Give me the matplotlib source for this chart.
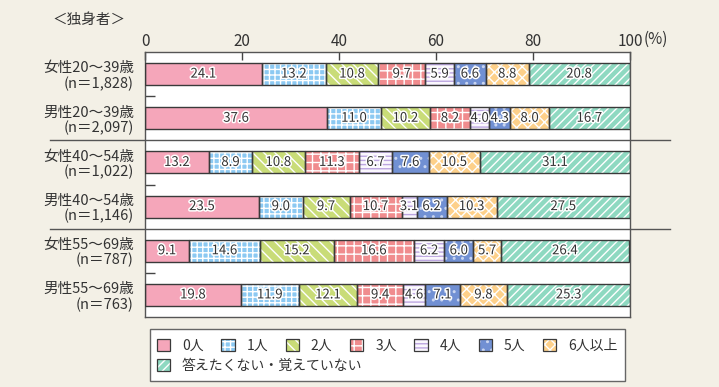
import matplotlib
matplotlib.use("Agg")
import matplotlib.pyplot as plt
import matplotlib.transforms as mtransforms
import matplotlib.patheffects as pe
from matplotlib.patches import Patch, Rectangle
import numpy as np

plt.rcParams['font.family'] = ['Noto Sans CJK JP', 'DejaVu Sans']
plt.rcParams['hatch.linewidth'] = 1.0

# data
groups = ['女性20〜39歳\n(n＝1,828)', '男性20〜39歳\n(n＝2,097)',
          '女性40〜54歳\n(n＝1,022)', '男性40〜54歳\n(n＝1,146)',
          '女性55〜69歳\n(n＝787)', '男性55〜69歳\n(n＝763)']
categories = ['0人', '1人', '2人', '3人', '4人', '5人', '6人以上', '答えたくない・覚えていない']
values = np.array([
    [24.1, 13.2, 10.8, 9.7, 5.9, 6.6, 8.8, 20.8],
    [37.6, 11.0, 10.2, 8.2, 4.0, 4.3, 8.0, 16.7],
    [13.2, 8.9, 10.8, 11.3, 6.7, 7.6, 10.5, 31.1],
    [23.5, 9.0, 9.7, 10.7, 3.1, 6.2, 10.3, 27.5],
    [9.1, 14.6, 15.2, 16.6, 6.2, 6.0, 5.7, 26.4],
    [19.8, 11.9, 12.1, 9.4, 4.6, 7.1, 9.8, 25.3],
])
xticks = [0, 20, 40, 60, 80, 100]

# styles: face colour, hatch, hatch colour
styles = [
    ('#f5a6ba', '', '#f5a6ba'),
    ('#8cc9f2', '+++', 'white'),
    ('#c9dc78', '\\\\\\', 'white'),
    ('#f08c8e', '++', 'white'),
    ('#faf7fd', '----', '#bca6e0'),
    ('#7190d3', '..', '#c9d5f0'),
    ('#fdd08a', 'xxx', 'white'),
    ('#8fd9c1', '////', 'white'),
]
edge = '#3a3a3a'
bg = '#f3f0e6'

W, H = 719, 387
fig = plt.figure(figsize=(W / 100, H / 100), dpi=100, facecolor=bg)
ax = fig.add_axes([145 / W, (H - 317) / H, 485 / W, 265 / H])
ax.set_facecolor('white')

y = np.arange(len(groups))
left = np.zeros(len(groups))
for j, cat in enumerate(categories):
    fc, hatch, hc = styles[j]
    w = values[:, j]
    ax.barh(y, w, left=left, height=0.5, color=fc, hatch=hatch,
            edgecolor=hc, linewidth=0, zorder=2)
    ax.barh(y, w, left=left, height=0.5, fill=False,
            edgecolor=edge, linewidth=1.0, zorder=3)
    for i in range(len(groups)):
        ax.text(left[i] + w[i] / 2, y[i], f'{w[i]:.1f}', ha='center', va='center',
                fontsize=9.5, color='#333333', zorder=4,
                path_effects=[pe.withStroke(linewidth=2.2, foreground='white')])
    left += w

ax.set_xlim(0, 100)
ax.set_ylim(len(groups) - 0.5, -0.5)
ax.xaxis.tick_top()
ax.set_xticks(xticks)
ax.set_xticklabels([str(t) for t in xticks])
ax.tick_params(axis='x', direction='in', length=6, width=1, color='#444444',
               labelsize=11, labelcolor='#333333', pad=1.5)
ax.text(1.0, 1.0, '(%)', transform=ax.transAxes + mtransforms.ScaledTranslation(14 / 100, 4 / 100, fig.dpi_scale_trans),
        ha='left', va='bottom', fontsize=11, color='#333333')
ax.set_yticks(y)
ax.set_yticklabels(groups, fontsize=10.5, color='#333333', linespacing=1.1, ha='right')
ax.tick_params(axis='y', which='major', length=0, pad=8)
ax.set_yticks([0.5, 2.5, 4.5], minor=True)
ax.tick_params(axis='y', which='minor', direction='in', length=7, width=1, color='#444444')
for s in ax.spines.values():
    s.set_color('#555555')
    s.set_linewidth(1)

# separators between age groups
trans = mtransforms.blended_transform_factory(fig.transFigure, ax.transData)
for sep in [1.5, 3.5]:
    ax.plot([50 / W, 670 / W], [sep, sep], transform=trans, color='#555555',
            linewidth=1, clip_on=False, zorder=5)

fig.text(52 / W, 1 - 20 / H, '＜独身者＞', ha='left', va='center', fontsize=10.5, color='#333333')

# legend
handles = []
for fc, hatch, hc in styles:
    handles.append((Patch(facecolor=fc, hatch=hatch, edgecolor=hc, linewidth=0),
                    Patch(fill=False, edgecolor=edge, linewidth=0.9)))
frame = Rectangle((150 / W, (H - 381) / H), 475 / W, 52 / H, transform=fig.transFigure,
                  facecolor='white', edgecolor='#666666', linewidth=1, zorder=0)
fig.patches.append(frame)
common = dict(frameon=False, fontsize=10, handlelength=0.95, handleheight=0.95,
              handletextpad=0.85, borderaxespad=0, borderpad=0,
              labelcolor='#333333')
leg1 = fig.legend(handles[:7], categories[:7], ncol=7, loc='center left',
                  bbox_to_anchor=(157 / W, 1 - 346 / H), columnspacing=1.28, **common)
leg2 = fig.legend(handles[7:], categories[7:], ncol=1, loc='center left',
                  bbox_to_anchor=(157 / W, 1 - 366 / H), **common)

fig.savefig('out.png', dpi=100, facecolor=bg)
